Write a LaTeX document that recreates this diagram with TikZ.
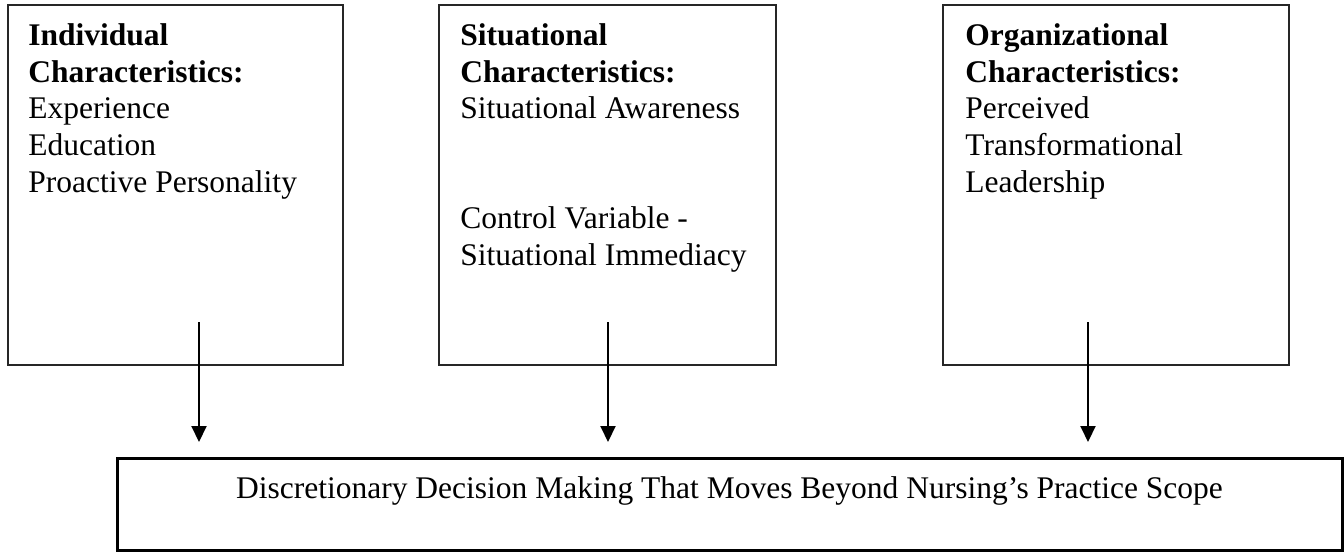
\documentclass[tikz,border=0pt]{standalone}
\usepackage{fontspec}
\setmainfont{Liberation Serif}
\usetikzlibrary{arrows.meta}
\begin{document}
\begin{tikzpicture}[x=0.5pt,y=-0.5pt,
  box/.style={draw=black!85, line width=1pt, inner sep=0pt, minimum height=180pt},
  bigbox/.style={draw=black, line width=1.5pt, inner sep=0pt},
  txt/.style={inner sep=0pt, anchor=north west, align=left, font=\fontsize{15.75pt}{18.35pt}\selectfont},
  ctxt/.style={inner sep=0pt, anchor=base, font=\fontsize{15.75pt}{18.35pt}\selectfont},
  flow/.style={line width=1pt, -{Triangle[width=7.5pt,length=8pt]}}]
\useasboundingbox (0,0) rectangle (1344,552);
\node[box, minimum width=167.5pt] (b1) at (175.5,185) {};
\node[box, minimum width=168.5pt] (b2) at (607.5,185) {};
\node[box, minimum width=173pt] (b3) at (1116,185) {};
\node[bigbox, minimum width=612.5pt, minimum height=46pt] (bot) at (729.5,504) {};
\node[txt] (t1) at (28,19.3) {\strut\textbf{Individual}\\\textbf{Characteristics:}\\Experience\\Education\\Proactive Personality};
\node[txt] (t2) at (460,19.3) {\strut\textbf{Situational}\\\textbf{Characteristics:}\\Situational Awareness\\\mbox{}\\\mbox{}\\Control Variable -\\Situational Immediacy};
\node[txt] (t3) at (965,19.3) {\strut\textbf{Organizational}\\\textbf{Characteristics:}\\Perceived\\Transformational\\Leadership};
\node[ctxt] (t4) at (729.5,498) {Discretionary Decision Making That Moves Beyond Nursing’s Practice Scope};
\coordinate (s1) at (199,322); \coordinate (e1) at (199,442);
\coordinate (s2) at (608,322); \coordinate (e2) at (608,442);
\coordinate (s3) at (1088,322); \coordinate (e3) at (1088,442);
\draw[flow] (s1) -- (e1);
\draw[flow] (s2) -- (e2);
\draw[flow] (s3) -- (e3);
\end{tikzpicture}
\end{document}
